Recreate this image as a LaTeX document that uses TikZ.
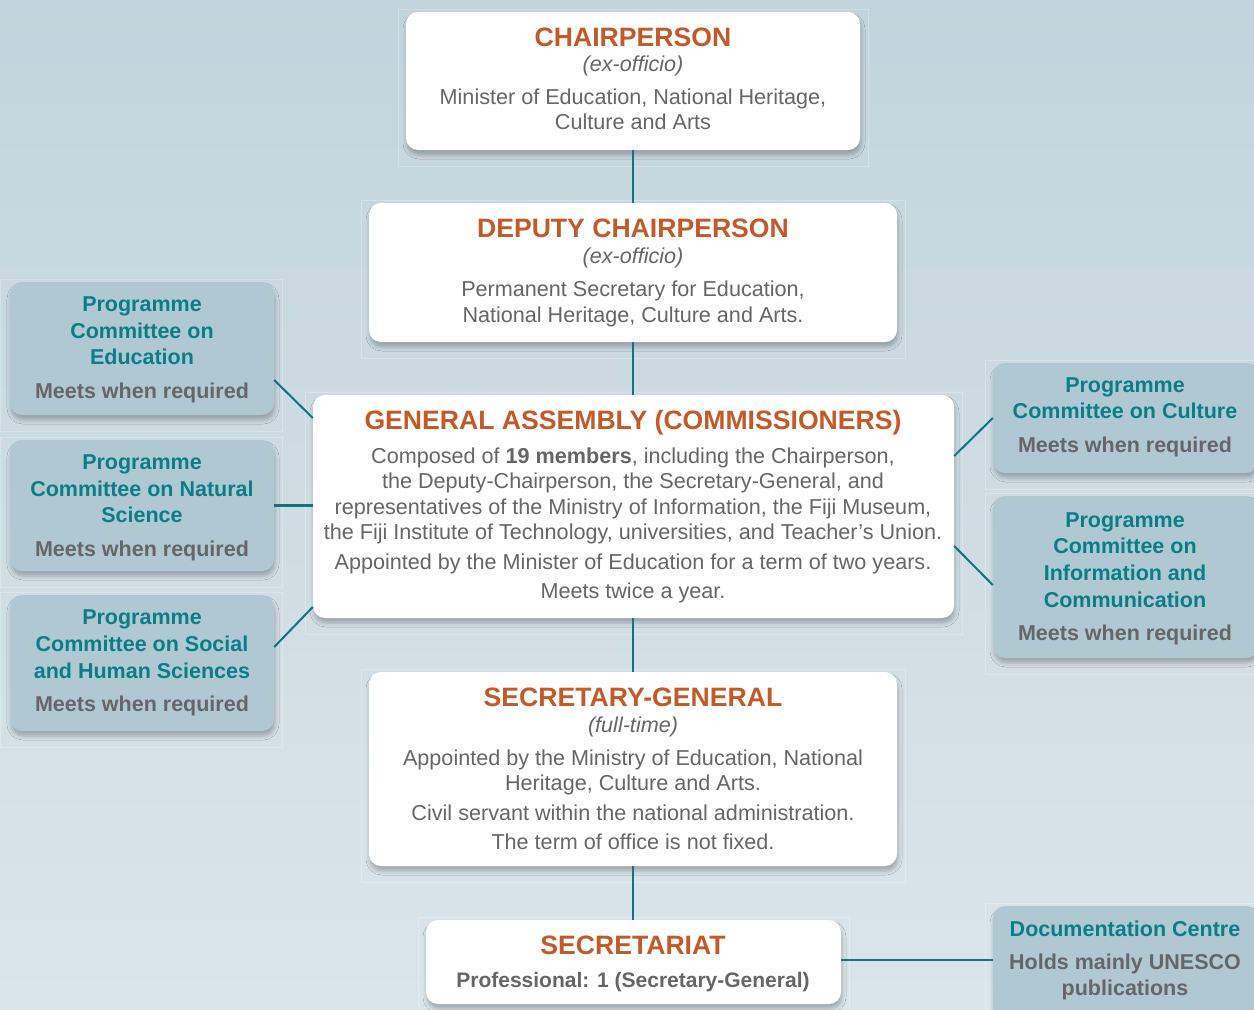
\documentclass[tikz,border=0pt]{standalone}
\usepackage{fontspec}
\setmainfont{Liberation Sans}
\usetikzlibrary{shadows.blur}
\definecolor{bgtop}{HTML}{C2D4DB}
\definecolor{bgbot}{HTML}{DAE5EA}
\definecolor{sidefill}{HTML}{B0C8D2}
\definecolor{orangec}{HTML}{C45A28}
\definecolor{tealc}{HTML}{0A7E87}
\definecolor{linec}{HTML}{11737E}
\definecolor{grayc}{HTML}{666666}
\begin{document}
\begin{tikzpicture}[x=1pt,y=-1pt,
  wbox/.style={draw=none,fill=white,rounded corners=12pt,inner sep=0pt,
    blur shadow={shadow xshift=1pt,shadow yshift=-5pt,shadow blur radius=4pt,shadow opacity=25}},
  sbox/.style={draw=none,fill=sidefill,rounded corners=12pt,inner sep=0pt,
    blur shadow={shadow xshift=1pt,shadow yshift=-5pt,shadow blur radius=4pt,shadow opacity=25}},
  framec/.style={draw=white,draw opacity=0.25,line width=0.8pt},
  conn/.style={draw=linec,line width=2.6pt},
  ttl/.style={anchor=base,inner sep=0pt,text=orangec,font=\fontsize{26.6}{30}\selectfont\bfseries},
  bod/.style={anchor=base,inner sep=0pt,text=grayc,font=\fontsize{21.6}{25}\selectfont},
  ita/.style={anchor=base,inner sep=0pt,text=grayc,font=\fontsize{21.6}{25}\selectfont\itshape},
  stl/.style={anchor=base,inner sep=0pt,text=tealc,font=\fontsize{21.5}{25}\selectfont\bfseries},
  sgr/.style={anchor=base,inner sep=0pt,text=grayc,font=\fontsize{21.5}{25}\selectfont\bfseries},
]
\useasboundingbox (0,0) rectangle (1254,1010);
\clip (0,0) rectangle (1254,1010);
\shade[top color=bgtop,bottom color=bgbot] (0,0) rectangle (1254,1010);

% faint frames
\draw[framec] (398,9) rectangle (868,166);
\draw[framec] (361,200) rectangle (905,358);
\draw[framec] (305,392) rectangle (962,634);
\draw[framec] (361,669) rectangle (905,882);
\draw[framec] (418,917) rectangle (849,1020);
\draw[framec] (0,279) rectangle (282,431);
\draw[framec] (0,437) rectangle (282,587);
\draw[framec] (0,592) rectangle (282,747);
\draw[framec] (985,360) rectangle (1260,489);
\draw[framec] (985,493) rectangle (1260,674);
\draw[framec] (985,903) rectangle (1260,1020);

% boxes
\node[wbox,minimum width=454pt,minimum height=138pt] (chair) at (633,81) {};
\node[wbox,minimum width=528pt,minimum height=139pt] (dep) at (633,272.5) {};
\node[wbox,minimum width=641pt,minimum height=223pt] (ga) at (633.5,506.5) {};
\node[wbox,minimum width=528pt,minimum height=194pt] (sg) at (633,769) {};
\node[wbox,minimum width=415pt,minimum height=84pt] (sec) at (633.5,962) {};
\node[sbox,minimum width=264pt,minimum height=133pt] (ed) at (142,348.5) {};
\node[sbox,minimum width=264pt,minimum height=131pt] (nat) at (142,505.5) {};
\node[sbox,minimum width=264pt,minimum height=136pt] (soc) at (142,663) {};
\node[sbox,minimum width=265pt,minimum height=110pt] (cul) at (1125.5,418) {};
\node[sbox,minimum width=265pt,minimum height=162pt] (info) at (1125.5,577) {};
\node[sbox,minimum width=265pt,minimum height=124pt] (doc) at (1125.5,968) {};

% connectors
\draw[conn] (chair.south) -- (dep.north);
\draw[conn] (dep.south) -- (dep.south |- ga.north);
\draw[conn] (sg.north |- ga.south) -- (sg.north);
\draw[conn] (sg.south) -- (sg.south |- sec.north);
\draw[conn,line width=2pt] (ed.east |- 0,380) -- (ga.west |- 0,418);
\draw[conn] (nat.east) -- (ga.west |- nat.east);
\draw[conn,line width=2pt] (soc.east |- 0,647) -- (ga.west |- 0,607);
\draw[conn,line width=2pt] (ga.east |- 0,456) -- (cul.west |- 0,418);
\draw[conn,line width=2pt] (ga.east |- 0,546) -- (info.west |- 0,585);
\draw[conn] (sec.east |- 0,960) -- (doc.west |- 0,960);

% chairperson
\node[ttl] (t1) at (633,46) {CHAIRPERSON};
\node[ita] (t1a) at (633,71) {(ex-officio)};
\node[bod] (t1b) at (633,104) {Minister of Education, National Heritage,};
\node[bod] (t1c) at (633,129) {Culture and Arts};
% deputy
\node[ttl] (t2) at (633,237) {DEPUTY CHAIRPERSON};
\node[ita] (t2a) at (633,263) {(ex-officio)};
\node[bod] (t2b) at (633,296) {Permanent Secretary for Education,};
\node[bod] (t2c) at (633,322) {National Heritage, Culture and Arts.};
% general assembly
\node[ttl] (t3) at (633,429) {GENERAL ASSEMBLY (COMMISSIONERS)};
\node[bod] (t3a) at (633,463) {Composed of \textbf{19 members}, including the Chairperson,};
\node[bod] (t3b) at (633,488) {the Deputy-Chairperson, the Secretary-General, and};
\node[bod] (t3c) at (633,514) {representatives of the Ministry of Information, the Fiji Museum,};
\node[bod] (t3d) at (633,539) {the Fiji Institute of Technology, universities, and Teacher’s Union.};
\node[bod] (t3e) at (633,569) {Appointed by the Minister of Education for a term of two years.};
\node[bod] (t3f) at (633,598) {Meets twice a year.};
% secretary-general
\node[ttl] (t4) at (633,706) {SECRETARY-GENERAL};
\node[ita] (t4a) at (633,732) {(full-time)};
\node[bod] (t4b) at (633,765) {Appointed by the Ministry of Education, National};
\node[bod] (t4c) at (633,790) {Heritage, Culture and Arts.};
\node[bod] (t4d) at (633,820) {Civil servant within the national administration.};
\node[bod] (t4e) at (633,849) {The term of office is not fixed.};
% secretariat
\node[ttl] (t5) at (633,954) {SECRETARIAT};
\node[sgr,font=\fontsize{21}{25}\selectfont\bfseries] (t5a) at (633,987) {Professional: 1 (Secretary-General)};
% left side boxes
\node[stl] (e1) at (142,311) {Programme};
\node[stl] (e2) at (142,338) {Committee on};
\node[stl] (e3) at (142,364) {Education};
\node[sgr] (e4) at (142,398) {Meets when required};
\node[stl] (n1) at (142,469) {Programme};
\node[stl] (n2) at (142,496) {Committee on Natural};
\node[stl] (n3) at (142,522) {Science};
\node[sgr] (n4) at (142,556) {Meets when required};
\node[stl] (s1) at (142,624) {Programme};
\node[stl] (s2) at (142,651) {Committee on Social};
\node[stl] (s3) at (142,678) {and Human Sciences};
\node[sgr] (s4) at (142,711) {Meets when required};
% right side boxes
\node[stl] (c1) at (1125,392) {Programme};
\node[stl] (c2) at (1125,418) {Committee on Culture};
\node[sgr] (c3) at (1125,452) {Meets when required};
\node[stl] (i1) at (1125,527) {Programme};
\node[stl] (i2) at (1125,553) {Committee on};
\node[stl] (i3) at (1125,580) {Information and};
\node[stl] (i4) at (1125,607) {Communication};
\node[sgr] (i5) at (1125,640) {Meets when required};
\node[stl] (d1) at (1125,936) {Documentation Centre};
\node[sgr] (d2) at (1125,969) {Holds mainly UNESCO};
\node[sgr] (d3) at (1125,995) {publications};
\end{tikzpicture}
\end{document}
